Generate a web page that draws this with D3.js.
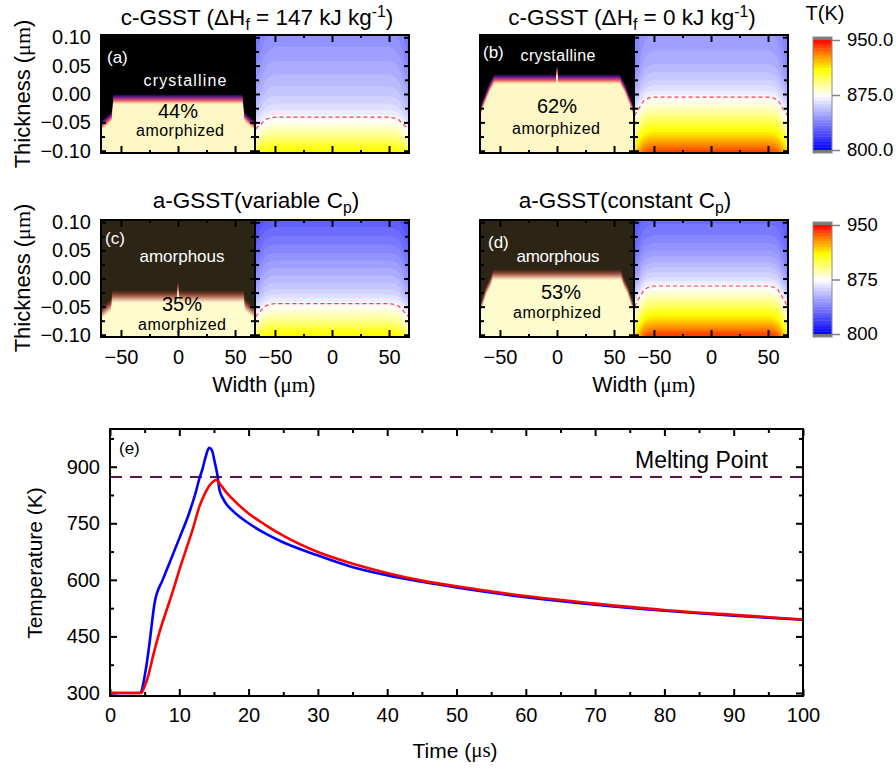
<!DOCTYPE html>
<html>
<head>
<meta charset="utf-8">
<script src="https://cdn.jsdelivr.net/npm/d3@7"></script>
<style>
  body { margin: 0; background: #fff; }
  svg { display: block; font-family: "Liberation Sans", Arial, sans-serif; }
</style>
</head>
<body>
<svg id="fig" width="896" height="770"></svg>
<script>
// --- DATA ---

// temperature field (right half of each map): centre-column profile vs thickness (um)
const thicknessLevels = [0.1, 0.075, 0.05, 0.025, 0, -0.025, -0.05, -0.075, -0.1];
const tempProfileA = [843, 846, 850, 854, 859, 866, 877, 892, 911];
const tempProfileB = [846, 849, 853, 860, 870, 884, 900, 918, 940];
const tempProfileC = [828, 834, 840, 847, 854, 862, 876, 891, 911];
const tempProfileD = [833, 838, 845, 854, 865, 880, 898, 918, 942];

// cooling towards the side walls: shape across the width and drop (K) at top / bottom
const edgeWidths = [-67.5, -65, -63, -60.5, -58.5, -55, -50, 50, 55, 58.5, 60.5, 63, 65, 67.5];
const edgeShape  = [1, 0.75, 0.58, 0.33, 0.17, 0.06, 0, 0, 0.06, 0.17, 0.33, 0.58, 0.75, 1];
const edgeDropA = [10, 12];
const edgeDropB = [10, 25];
const edgeDropC = [8, 16];
const edgeDropD = [7, 33];

// amorphized region (left half): top of the transition band vs width (um)
const phaseWidthsA = [-67.5, -66, -62, -58, -56.5, 56.5, 58, 62, 66, 67.5];
const phaseBoundA  = [-0.048, -0.044, -0.038, -0.03, 0.0, 0.0, -0.03, -0.038, -0.044, -0.048];
const phaseWidthsB = [-67.5, -65, -62, -59, -55, -0.9, 0, 0.9, 55, 59, 62, 65, 67.5];
const phaseBoundB  = [-0.026, -0.009, 0.006, 0.021, 0.0355, 0.0355, 0.053, 0.0355, 0.0355, 0.021, 0.006, -0.009, -0.026];
const phaseWidthsC = [-67.5, -65, -62, -58.5, -57.5, -0.9, 0, 0.9, 57.5, 58.5, 62, 65, 67.5];
const phaseBoundC  = [-0.048, -0.045, -0.04, -0.034, -0.0195, -0.0195, -0.001, -0.0195, -0.0195, -0.034, -0.04, -0.045, -0.048];
const phaseWidthsD = [-67.5, -64.6, -61.7, -58.8, -56, 56, 58.8, 61.7, 64.6, 67.5];
const phaseBoundD  = [-0.045, -0.027, -0.009, 0.002, 0.017, 0.017, 0.002, -0.009, -0.027, -0.045];

const amorphizedPct = ["44%", "62%", "35%", "53%"];

// colour bar
const cbarTicks1 = [800, 875, 950];
const cbarTicks2 = [800, 875, 950];

// (e) temperature vs time
const meltingPoint = 873;
const timeBlue = [0, 4.3, 5.24, 5.7, 6.43, 7.6, 8.57, 10, 11.4, 12.4, 12.9, 13.3, 13.8, 14.3, 14.7, 15.1, 15.5, 15.8, 16.3, 16.7, 17.6, 20, 22.4, 24.8, 29.8, 34.8, 39.8, 45, 50, 60, 70, 80, 90, 100];
const tempBlue = [300, 300, 371, 432, 538, 600, 644, 710, 776, 834, 869, 891, 926, 950, 944, 913, 878, 838, 816, 803, 785, 750, 723, 701, 666, 635, 613, 595, 580, 554, 534, 518, 505, 494];
const timeRed = [0, 4.5, 5, 5.5, 6.2, 7.1, 8.1, 9.05, 10, 10.95, 11.9, 12.9, 13.6, 14.3, 15, 15.3, 16, 16.7, 17.6, 20, 22.4, 24.8, 29.8, 34.8, 39.8, 45, 50, 60, 70, 80, 90, 100];
const tempRed = [300, 300, 318, 344, 397, 459, 516, 569, 626, 679, 732, 794, 825, 849, 862, 865, 851, 834, 816, 776, 746, 719, 675, 644, 619, 598, 583, 557, 537, 520, 507, 495];

// --- SETUP ---
const FONT = '"Liberation Sans", Arial, sans-serif';
const SERIF = '"Liberation Serif", "Times New Roman", serif';
const svg = d3.select("#fig");
const W_EXT = 67.5, Z_EXT = 0.104;
const NX = 135, NY = 104;
const STEP = 3.75;

const tempColor = d3.scaleLinear()
  .domain([800, 875, 910, 932, 950])
  .range(["#0000ff", "#ffffff", "#ffff00", "#ff8000", "#ff0000"])
  .clamp(true);

// transition colours, dark (untouched phase) -> pale yellow (amorphized)
const crystInterp = d3.interpolateRgbBasis(["#000000", "#2a0c58", "#521478", "#7c2484", "#a8347e", "#d24c74", "#f0786c", "#fab48a", "#fce4b0", "#fcf7c4"]);
const amorInterp = d3.interpolateRgbBasis(["#2c2414", "#4c2a1c", "#6e3626", "#8e4c3c", "#b06c5a", "#cf947e", "#e8bea4", "#f8e6c4", "#fefccc"]);

const panels = [
  { row: 0, col: 0, profile: tempProfileA, drop: edgeDropA, widths: phaseWidthsA, bounds: phaseBoundA, band: 0.018, interp: crystInterp },
  { row: 0, col: 1, profile: tempProfileB, drop: edgeDropB, widths: phaseWidthsB, bounds: phaseBoundB, band: 0.018, interp: crystInterp },
  { row: 1, col: 0, profile: tempProfileC, drop: edgeDropC, widths: phaseWidthsC, bounds: phaseBoundC, band: 0.024, interp: amorInterp },
  { row: 1, col: 1, profile: tempProfileD, drop: edgeDropD, widths: phaseWidthsD, bounds: phaseBoundD, band: 0.02, interp: amorInterp }
];

const rowTop = [35, 220], rowBottom = [153, 337];
const colEdges = [[101, 255, 409], [480, 634, 788]];

let clipId = 0;
function clipTo(g, x0, y0, w, h) {
  const id = "clip" + (clipId++);
  svg.append("clipPath").attr("id", id).append("rect")
    .attr("x", x0).attr("y", y0).attr("width", w).attr("height", h);
  g.attr("clip-path", `url(#${id})`);
}

// --- PHASE MAP (left half) ---
function drawPhase(g, xs, ys, p) {
  const bScale = d3.scaleLinear().domain(p.widths).range(p.bounds).clamp(true);
  const ws = d3.range(-W_EXT, W_EXT + 0.001, 0.25);
  g.append("rect")
    .attr("x", xs(-W_EXT)).attr("y", ys(Z_EXT))
    .attr("width", xs(W_EXT) - xs(-W_EXT)).attr("height", ys(-Z_EXT) - ys(Z_EXT))
    .attr("fill", p.interp(0));
  const N = 20;
  d3.range(N + 1).forEach(k => {
    const s = k / N;
    const area = d3.area()
      .x(w => xs(w))
      .y0(ys(-Z_EXT))
      .y1(w => ys(bScale(w) - p.band * s));
    g.append("path").attr("d", area(ws)).attr("fill", p.interp(s));
  });
}

// --- TEMPERATURE MAP (right half) ---
function tempGrid(p) {
  const zScale = d3.scaleLinear().domain(thicknessLevels).range(p.profile).clamp(true);
  const eScale = d3.scaleLinear().domain(edgeWidths).range(edgeShape).clamp(true);
  const values = new Array(NX * NY);
  for (let j = 0; j < NY; j++) {
    const z = Z_EXT - (j + 0.5) * (2 * Z_EXT) / NY;
    const frac = (Z_EXT - z) / (2 * Z_EXT);
    const d = p.drop[0] + (p.drop[1] - p.drop[0]) * frac;
    for (let i = 0; i < NX; i++) {
      const w = -W_EXT + (i + 0.5) * (2 * W_EXT) / NX;
      values[j * NX + i] = zScale(z) - d * eScale(w);
    }
  }
  return values;
}

function drawTemp(g, xs, ys, p) {
  const values = tempGrid(p);
  const x0 = xs(-W_EXT), y0 = ys(Z_EXT);
  const sx = (xs(W_EXT) - x0) / NX, sy = (ys(-Z_EXT) - y0) / NY;
  const proj = d3.geoTransform({
    point(x, y) { this.stream.point(x0 + x * sx, y0 + y * sy); }
  });
  const path = d3.geoPath(proj);
  const thresholds = d3.range(800, 950.01, STEP);
  g.append("rect").attr("x", x0).attr("y", y0)
    .attr("width", NX * sx).attr("height", NY * sy)
    .attr("fill", tempColor(d3.min(values)));
  const contours = d3.contours().size([NX, NY]).thresholds(thresholds)(values);
  g.selectAll("path.band").data(contours).enter().append("path")
    .attr("class", "band")
    .attr("d", path)
    .attr("fill", c => tempColor(c.value + STEP / 2));

  // melting isotherm, traced column by column
  const pts = [];
  for (let i = 0; i < NX; i++) {
    for (let j = 1; j < NY; j++) {
      const a = values[(j - 1) * NX + i], b = values[j * NX + i];
      if (a < meltingPoint && b >= meltingPoint) {
        const t = (meltingPoint - a) / (b - a);
        pts.push([x0 + (i + 0.5) * sx, y0 + (j - 0.5 + t) * sy]);
        break;
      }
    }
  }
  g.append("path")
    .attr("d", d3.line()(pts))
    .attr("fill", "none")
    .attr("stroke", "#ff3c3c")
    .attr("stroke-width", 1.2)
    .attr("stroke-dasharray", "4,3");
}

function styleAxis(a) {
  a.select(".domain").remove();
  a.selectAll("line").attr("stroke", "#000").attr("stroke-width", 2);
  a.attr("font-family", FONT).attr("font-size", 20);
  a.selectAll("text").attr("fill", "#000");
  return a;
}

function panelAxes(xs, ys, showX, showY) {
  const g = svg.append("g");
  const [yb, yt] = ys.range();
  const [xl, xr] = xs.range();
  const xMaj = [-50, 0, 50], xMin = [-25, 25];
  const yMaj = [-0.1, -0.05, 0, 0.05, 0.1], yMin = [-0.075, -0.025, 0.025, 0.075];
  const add = (axis, tx, ty) => styleAxis(g.append("g").attr("transform", `translate(${tx},${ty})`).call(axis));
  add(d3.axisTop(xs).tickValues(xMaj).tickSize(-7).tickFormat(""), 0, yt);
  add(d3.axisTop(xs).tickValues(xMin).tickSize(-3).tickFormat(""), 0, yt);
  add(d3.axisBottom(xs).tickValues(xMaj).tickSize(-7).tickPadding(13)
      .tickFormat(showX ? d3.format("d") : ""), 0, yb);
  add(d3.axisBottom(xs).tickValues(xMin).tickSize(-3).tickFormat(""), 0, yb);
  add(d3.axisLeft(ys).tickValues(yMaj).tickSize(-5).tickPadding(10)
      .tickFormat(showY ? d3.format(".2f") : ""), xl, 0);
  add(d3.axisLeft(ys).tickValues(yMin).tickSize(-4).tickFormat(""), xl, 0);
  add(d3.axisRight(ys).tickValues(yMaj).tickSize(-5).tickFormat(""), xr, 0);
  add(d3.axisRight(ys).tickValues(yMin).tickSize(-4).tickFormat(""), xr, 0);
  g.append("rect").attr("x", xl).attr("y", yt).attr("width", xr - xl).attr("height", yb - yt)
    .attr("fill", "none").attr("stroke", "#000").attr("stroke-width", 2);
}

// --- DRAW MAP PANELS ---
panels.forEach(p => {
  const [xa, xm, xb] = colEdges[p.col];
  const top = rowTop[p.row], bot = rowBottom[p.row];
  const ys = d3.scaleLinear().domain([-Z_EXT, Z_EXT]).range([bot, top]);
  const xsL = d3.scaleLinear().domain([-W_EXT, W_EXT]).range([xa, xm]);
  const xsR = d3.scaleLinear().domain([-W_EXT, W_EXT]).range([xm, xb]);

  const gL = svg.append("g");
  clipTo(gL, xa, top, xm - xa, bot - top);
  drawPhase(gL, xsL, ys, p);
  const gR = svg.append("g");
  clipTo(gR, xm, top, xb - xm, bot - top);
  drawTemp(gR, xsR, ys, p);

  panelAxes(xsL, ys, p.row === 1, p.col === 0);
  panelAxes(xsR, ys, p.row === 1, false);
});

// --- ANNOTATIONS IN MAPS ---
function txt(x, y, s, size, fill, anchor, len) {
  const t = svg.append("text").attr("x", x).attr("y", y)
    .attr("font-size", size).attr("fill", fill)
    .attr("text-anchor", anchor || "middle")
    .attr("dominant-baseline", "central").text(s);
  if (len) t.attr("textLength", len).attr("lengthAdjust", "spacing");
  return t;
}
txt(107, 57, "(a)", 17, "#fff", "start");
txt(185, 80, "crystalline", 16, "#fff", "middle", 83);
txt(178, 111, amorphizedPct[0], 20, "#000");
txt(180, 130, "amorphized", 16, "#000", "middle", 88);

txt(483, 52, "(b)", 17, "#fff", "start");
txt(558, 55, "crystalline", 16, "#fff", "middle", 75);
txt(557, 106, amorphizedPct[1], 20, "#000");
txt(556, 128, "amorphized", 16, "#000", "middle", 88);

txt(105, 238, "(c)", 17, "#fff", "start");
txt(182, 256, "amorphous", 17, "#fff", "middle", 85);
txt(182, 304, amorphizedPct[2], 20, "#000");
txt(182, 324, "amorphized", 16, "#000", "middle", 88);

txt(488, 242, "(d)", 17, "#fff", "start");
txt(558, 256, "amorphous", 17, "#fff", "middle", 83);
txt(561, 292, amorphizedPct[3], 20, "#000");
txt(557, 312, "amorphized", 16, "#000", "middle", 88);

// --- TITLES ---
function richTitle(x, y, parts, size) {
  const t = svg.append("text").attr("x", x).attr("y", y)
    .attr("text-anchor", "middle").attr("font-size", size).attr("fill", "#000");
  parts.forEach(([s, kind]) => {
    const sp = t.append("tspan").text(s);
    if (kind === "sub") sp.attr("font-size", size * 0.7).attr("dy", 5);
    else if (kind === "sup") sp.attr("font-size", size * 0.7).attr("dy", -8);
    else if (kind === "back-sub") sp.attr("dy", -5);
    else if (kind === "back-sup") sp.attr("dy", 8);
  });
  return t;
}
richTitle(257, 25, [["c-GSST (\u0394H"], ["f", "sub"], [" = 147 kJ kg", "back-sub"], ["-1", "sup"], [")", "back-sup"]], 22.5);
richTitle(632, 25, [["c-GSST (\u0394H"], ["f", "sub"], [" = 0 kJ kg", "back-sub"], ["-1", "sup"], [")", "back-sup"]], 22.5);
richTitle(256, 208, [["a-GSST(variable C"], ["p", "sub"], [")", "back-sub"]], 22.5);
richTitle(625, 208, [["a-GSST(constant C"], ["p", "sub"], [")", "back-sub"]], 22.5);

// axis titles
function unitLabel(x, y, pre, unit, size, rotate) {
  const t = svg.append("text").attr("font-size", size).attr("fill", "#000")
    .attr("text-anchor", "middle").attr("dominant-baseline", "central");
  if (rotate) t.attr("transform", `translate(${x},${y}) rotate(-90)`);
  else t.attr("x", x).attr("y", y);
  t.append("tspan").text(pre);
  if (unit) t.append("tspan").attr("font-family", SERIF).text(unit);
  t.append("tspan").text(")");
  return t;
}
unitLabel(22, 94, "Thickness (", "\u03bcm", 22, true);
unitLabel(22, 278, "Thickness (", "\u03bcm", 22, true);
unitLabel(264, 385, "Width (", "\u03bcm", 21.5, false);
unitLabel(644, 385, "Width (", "\u03bcm", 21.5, false);

// --- COLOUR BARS ---
function colorbar(y0, y1, ticks, fmt) {
  const g = svg.append("g");
  const bx = 813, bw = 19;
  const cb = d3.scaleLinear().domain([800, 950]).range([y1 - 3, y0 + 3]);
  g.selectAll("rect.step").data(d3.range(800, 950, STEP)).enter().append("rect")
    .attr("x", bx).attr("width", bw)
    .attr("y", d => cb(d + STEP)).attr("height", d => cb(d) - cb(d + STEP) + 0.4)
    .attr("fill", d => tempColor(d + STEP / 2));
  g.append("rect").attr("x", bx).attr("y", y0).attr("width", bw).attr("height", 3).attr("fill", "#7a7a7a");
  g.append("rect").attr("x", bx).attr("y", y1 - 3).attr("width", bw).attr("height", 3).attr("fill", "#7a7a7a");
  g.append("rect").attr("x", bx).attr("y", y0).attr("width", bw).attr("height", y1 - y0)
    .attr("fill", "none").attr("stroke", "#8a8a8a").attr("stroke-width", 1);
  const ax = g.append("g").attr("transform", `translate(${bx + bw},0)`)
    .call(d3.axisRight(cb).tickValues(ticks).tickSize(8).tickPadding(7).tickFormat(fmt));
  ax.select(".domain").remove();
  ax.selectAll("line").attr("stroke", "#808080").attr("stroke-width", 1.5);
  ax.attr("font-family", FONT).attr("font-size", 18.5);
  ax.selectAll("text").attr("fill", "#000");
}
colorbar(37, 153, cbarTicks1, d3.format(".1f"));
colorbar(222, 337, cbarTicks2, d3.format("d"));
svg.append("text").attr("x", 825).attr("y", 20).attr("text-anchor", "middle")
  .attr("font-size", 20).attr("fill", "#000").text("T(K)");

// --- PANEL (e): TEMPERATURE VS TIME ---
const ex = d3.scaleLinear().domain([0, 100]).range([110, 803]);
const ey = d3.scaleLinear().domain([292, 1000]).range([696, 429]);
const ge = svg.append("g");

const eAxis = (axis, tx, ty) => {
  const a = ge.append("g").attr("transform", `translate(${tx},${ty})`).call(axis);
  a.select(".domain").remove();
  a.selectAll("line").attr("stroke", "#000").attr("stroke-width", 2);
  a.attr("font-family", FONT).attr("font-size", 20);
  a.selectAll("text").attr("fill", "#000");
};
const xMajor = d3.range(0, 101, 10), xMinor = d3.range(5, 100, 10);
const yMajor = d3.range(300, 901, 150), yMinor = d3.range(375, 1000, 150);
eAxis(d3.axisBottom(ex).tickValues(xMajor).tickSize(-7).tickPadding(12), 0, 696);
eAxis(d3.axisBottom(ex).tickValues(xMinor).tickSize(-4).tickFormat(""), 0, 696);
eAxis(d3.axisTop(ex).tickValues(xMajor).tickSize(-7).tickFormat(""), 0, 429);
eAxis(d3.axisTop(ex).tickValues(xMinor).tickSize(-4).tickFormat(""), 0, 429);
eAxis(d3.axisLeft(ey).tickValues(yMajor).tickSize(-7).tickPadding(10), 110, 0);
eAxis(d3.axisLeft(ey).tickValues(yMinor).tickSize(-4).tickFormat(""), 110, 0);
eAxis(d3.axisRight(ey).tickValues(yMajor).tickSize(-7).tickFormat(""), 803, 0);
eAxis(d3.axisRight(ey).tickValues(yMinor).tickSize(-4).tickFormat(""), 803, 0);

ge.append("line")
  .attr("x1", ex(0)).attr("x2", ex(100))
  .attr("y1", ey(meltingPoint)).attr("y2", ey(meltingPoint))
  .attr("stroke", "#5e1848").attr("stroke-width", 2).attr("stroke-dasharray", "12,8");

const lineGen = d3.line().x(d => ex(d[0])).y(d => ey(d[1])).curve(d3.curveMonotoneX);
ge.append("path").attr("d", lineGen(d3.zip(timeBlue, tempBlue)))
  .attr("fill", "none").attr("stroke", "#0000ff").attr("stroke-width", 2.6);
ge.append("path").attr("d", lineGen(d3.zip(timeRed, tempRed)))
  .attr("fill", "none").attr("stroke", "#ff0000").attr("stroke-width", 2.6);

ge.append("rect").attr("x", 110).attr("y", 429).attr("width", 693).attr("height", 267)
  .attr("fill", "none").attr("stroke", "#000").attr("stroke-width", 2);

ge.append("text").attr("x", 119).attr("y", 448).attr("dominant-baseline", "central")
  .attr("font-size", 17).attr("fill", "#000").text("(e)");
ge.append("text").attr("x", 635).attr("y", 468)
  .attr("font-size", 23).attr("fill", "#000").text("Melting Point");

unitLabel(34, 563, "Temperature (K", "", 21, true);
unitLabel(455, 750, "Time (", "\u03bcs", 21, false);
</script>
</body>
</html>
